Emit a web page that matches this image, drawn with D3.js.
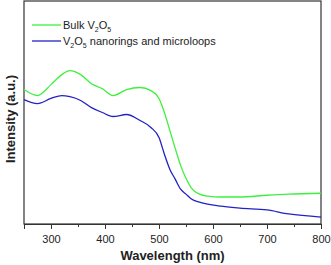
<!DOCTYPE html>
<html lang="en">
<head>
<meta charset="UTF-8">
<title>UV-Vis</title>
<style>
  body { margin: 0; background: #fff; }
  text { font-family: "Liberation Sans", Arial, sans-serif; }
</style>
</head>
<body>
<svg width="331" height="265"></svg>
<script src="https://d3js.org/d3.v7.min.js"></script>
<script>
var wavelength = [250, 275, 300, 320, 335, 355, 375, 395, 415, 440, 465, 485, 500, 510, 520, 530, 540, 550, 560, 575, 590, 615, 650, 700, 740, 800]
var bulk = [60.3, 57.6, 62.5, 67.0, 68.8, 67.0, 62.9, 60.7, 57.6, 60.3, 61.2, 59.8, 56.3, 50.0, 42.0, 33.9, 26.3, 20.5, 16.1, 13.4, 12.5, 12.1, 12.1, 12.9, 13.4, 13.8]
var nano = [55.8, 54.0, 56.3, 57.6, 57.1, 55.4, 52.2, 50.0, 48.2, 49.1, 46.4, 43.3, 38.8, 31.3, 24.6, 20.1, 15.6, 13.4, 11.2, 9.8, 8.9, 8.0, 7.1, 6.3, 4.5, 3.1]
var majorTicks = [300, 400, 500, 600, 700, 800]
var minorTicks = [250, 350, 450, 550, 650, 750]

var svg = d3.select('svg')
var margin = { left: 24, top: 1, right: 10, bottom: 41 }
var w = +svg.attr('width') - margin.left - margin.right
var h = +svg.attr('height') - margin.top - margin.bottom
var g = svg.append('g').attr('transform', `translate(${margin.left},${margin.top})`)

var x = d3.scaleLinear().domain([250, 800]).range([0, w])
var y = d3.scaleLinear().domain([0, 100]).range([h, 0])

// frame
g.append('rect').attr('width', w).attr('height', h)
  .attr('fill', 'none').attr('stroke', '#333').attr('stroke-width', 1.2)

// x axis
var xAxis = g.append('g').attr('transform', `translate(0,${h})`)
  .call(d3.axisBottom(x).tickValues(majorTicks).tickSize(5).tickFormat(d3.format('d')))
xAxis.select('.domain').attr('stroke', '#333')
xAxis.selectAll('.tick line').attr('stroke', '#333')
xAxis.selectAll('text').attr('font-size', 11).attr('fill', '#222').attr('y', 19).attr('dy', 0)
g.append('g').attr('transform', `translate(0,${h})`)
  .call(d3.axisBottom(x).tickValues(minorTicks).tickSize(3).tickFormat(''))
  .call(s => s.select('.domain').remove())
  .selectAll('line').attr('stroke', '#333')

// lines
var line = function (vals) {
  return d3.line().x(function (d, i) { return x(wavelength[i]) })
    .y(function (d) { return y(d) }).curve(d3.curveMonotoneX)(vals)
}
g.append('path').attr('d', line(bulk)).attr('fill', 'none').attr('stroke', '#3ef03e').attr('stroke-width', 1.3)
g.append('path').attr('d', line(nano)).attr('fill', 'none').attr('stroke', '#2222c4').attr('stroke-width', 1.3)

// legend
var legend = [
  { color: '#3ef03e', parts: [['Bulk V', 0], ['2', 1], ['O', 0], ['5', 1]] },
  { color: '#2222c4', parts: [['V', 0], ['2', 1], ['O', 0], ['5', 1], [' nanorings and microloops', 0]] }
]
legend.forEach(function (item, i) {
  var ly = 25 + i * 16
  svg.append('line').attr('x1', 32).attr('x2', 61).attr('y1', ly).attr('y2', ly)
    .attr('stroke', item.color).attr('stroke-width', 1.3)
  var t = svg.append('text').attr('x', 63).attr('y', ly + 4).attr('font-size', 11).attr('fill', '#222')
  item.parts.forEach(function (p, j) {
    t.append('tspan').text(p[0]).attr('font-size', p[1] ? 7 : 11)
      .attr('dy', p[1] ? 3 : (j === 0 ? 0 : -3))
  })
})

// titles
svg.append('text').attr('x', margin.left + w / 2).attr('y', 260)
  .attr('text-anchor', 'middle').attr('font-size', 13).attr('font-weight', 'bold').attr('fill', '#222')
  .text('Wavelength (nm)')
svg.append('text').attr('transform', 'translate(15,119) rotate(-90)')
  .attr('text-anchor', 'middle').attr('font-size', 13).attr('font-weight', 'bold').attr('fill', '#222')
  .text('Intensity (a.u.)')
</script>
</body>
</html>
